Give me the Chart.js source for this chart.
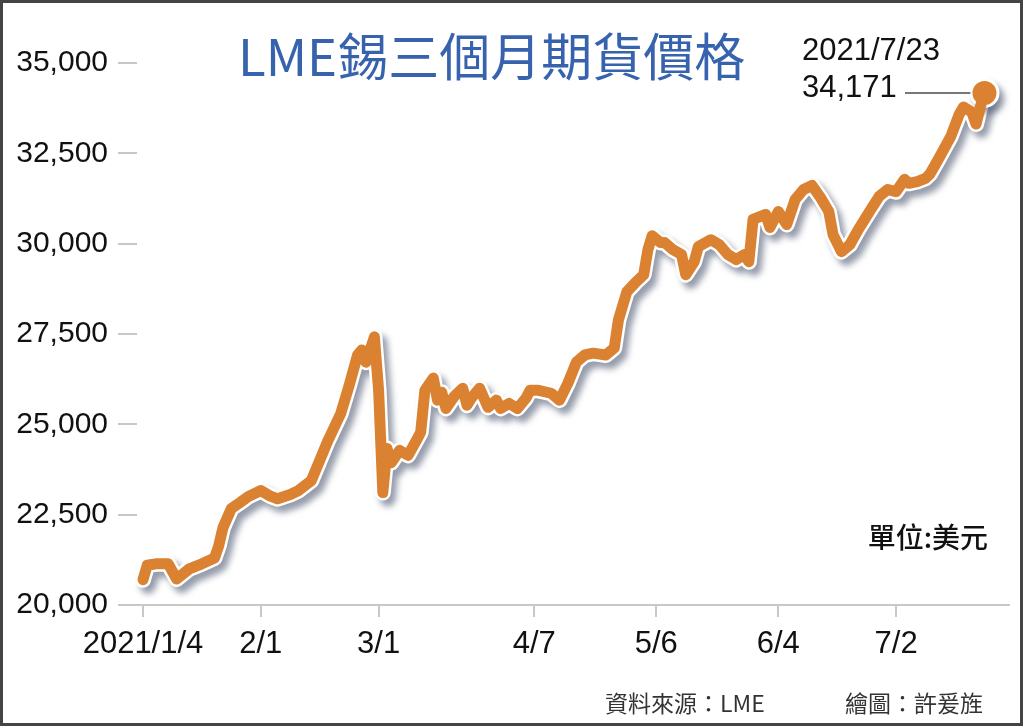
<!DOCTYPE html>
<html><head><meta charset="utf-8">
<script src="https://cdn.jsdelivr.net/npm/chart.js@4.4.1/dist/chart.umd.min.js"></script>
<style>html,body{margin:0;padding:0;background:#fff;overflow:hidden}canvas{display:block}</style>
</head><body>
<canvas id="c" width="1024" height="727"></canvas>
<script>
// ---- data ----
const dates = ['1/4','1/5','1/7','1/10','1/12','1/15','1/18','1/21','1/22','1/23','1/25','1/27','1/29',
  '2/1','2/3','2/5','2/8','2/10','2/13','2/15','2/17','2/20','2/22','2/24','2/25','2/26','2/28',
  '3/1','3/2','3/3','3/4','3/6','3/8','3/10','3/11','3/12','3/14','3/15','3/16','3/17','3/19','3/21','3/22','3/23','3/25','3/27','3/29','3/30',
  '4/1','4/3','4/5','4/6','4/8','4/11','4/13','4/15','4/17','4/19','4/21','4/24','4/26','4/27','4/29',
  '5/1','5/3','5/4','5/5','5/7','5/8','5/10','5/12','5/13','5/15','5/16','5/19','5/21','5/23','5/25','5/27','5/28','5/29',
  '6/1','6/2','6/4','6/6','6/8','6/10','6/12','6/14','6/16','6/17','6/19','6/21','6/23','6/26','6/28','6/30',
  '7/2','7/4','7/5','7/7','7/9','7/10','7/12','7/15','7/17','7/18','7/20','7/21','7/22','7/23'];
const prices = [20700,21100,21140,21140,20720,21000,21140,21300,21640,22140,22670,22830,23000,
  23170,23030,22940,23060,23170,23440,24000,24560,25300,26080,26920,27060,26720,27420,
  25940,23110,24330,23940,24280,24140,24560,24780,25940,26280,25670,25890,25440,25780,26000,25530,25720,26000,25470,25670,25440,
  25580,25440,25720,25940,25940,25860,25670,26140,26720,26920,26970,26920,27110,27890,28670,
  28920,29140,29830,30220,30030,30030,29830,29700,29140,29500,29920,30110,29970,29700,29560,29700,29500,30670,
  30810,30450,30890,30530,31220,31500,31610,31280,30890,30250,29780,29970,30390,30950,31310,31500,
  31440,31780,31670,31720,31810,31920,32330,32970,33580,33780,33640,33310,33780,34171];
const tickDates = ['1/4','2/1','3/1','4/7','5/6','6/4','7/2'];
const tickLabels = ['2021/1/4','2/1','3/1','4/7','5/6','6/4','7/2'];
const yTicks = [20000,22500,25000,27500,30000,32500,35000];
const titleText = 'LME錫三個月期貨價格';
const lastDateLabel = '2021/7/23';
const unitText = '單位:美元';
const sourceText = '資料來源：LME';
const creditText = '繪圖：許爰旌';

const monthStart = [0,31,59,90,120,151,181,212];
function dayOfYear(md){ const p = md.split('/').map(Number); return monthStart[p[0]-1] + p[1]; }
const points = dates.map((d,i)=>({x:dayOfYear(d), y:prices[i]}));
const lastIdx = prices.length - 1;

const ORANGE = '#DB8232';
const numFont = '"Liberation Sans", Arial, sans-serif';
const cjkFont = '"Noto Sans CJK TC", "Noto Sans CJK SC", sans-serif';

const decor = {
  id:'decor',
  beforeDraw(chart){
    const c = chart.ctx; c.save(); c.fillStyle='#fff'; c.fillRect(0,0,chart.width,chart.height); c.restore();
  },
  beforeDatasetDraw(chart,args){
    if(args.index===1){
      const c=chart.ctx; c.save();
      c.shadowColor='rgba(80,90,115,0.6)'; c.shadowBlur=6; c.shadowOffsetX=5; c.shadowOffsetY=6;
    }
  },
  afterDatasetDraw(chart,args){
    if(args.index===1){ chart.ctx.restore(); }
  },
  afterDraw(chart){
    const c = chart.ctx;
    c.save();
    // title
    c.fillStyle='#3762AE'; c.font='400 51px '+cjkFont; c.textAlign='left'; c.textBaseline='middle';
    c.fillText(titleText, 238, 57);
    // unit
    c.fillStyle='#111'; c.font='500 28px '+cjkFont; c.textAlign='right';
    c.fillText(unitText, 988, 537);
    // footer
    c.fillStyle='#333'; c.font='400 23px '+cjkFont; c.textAlign='left';
    c.fillText(sourceText, 605, 703);
    c.fillText(creditText, 845, 703);
    // annotation for last point
    const el = chart.getDatasetMeta(0).data[lastIdx];
    c.fillStyle='#111'; c.font='31px '+numFont; c.textAlign='left';
    c.fillText(lastDateLabel, 802, 51);
    c.fillText(prices[lastIdx].toLocaleString('en-US'), 802, 88);
    c.strokeStyle='#777'; c.lineWidth=2;
    c.beginPath(); c.moveTo(905, el.y); c.lineTo(el.x-14, el.y); c.stroke();
    // frame
    c.strokeStyle='#444'; c.lineWidth=3;
    c.strokeRect(1.5,1.5,1020,723);
    c.restore();
  }
};

new Chart(document.getElementById('c'), {
  type:'line',
  data:{ datasets:[
    { data:points, borderColor:ORANGE, borderWidth:11, borderJoinStyle:'round', borderCapStyle:'round',
      tension:0, fill:false, clip:false,
      pointRadius:ctx=>ctx.dataIndex===lastIdx?12:0, pointBackgroundColor:ORANGE, pointBorderWidth:0, pointHoverRadius:0 },
    { data:points, borderColor:'#ffffff', borderWidth:16, borderJoinStyle:'round', borderCapStyle:'round',
      tension:0, fill:false, clip:false,
      pointRadius:ctx=>ctx.dataIndex===lastIdx?15:0, pointBackgroundColor:'#ffffff', pointBorderWidth:0, pointHoverRadius:0 }
  ]},
  options:{
    responsive:false, animation:false, devicePixelRatio:1,
    layout:{padding:{top:63,right:14,bottom:0,left:0}},
    plugins:{legend:{display:false}, tooltip:{enabled:false}},
    scales:{
      x:{ type:'linear', min:2.576, max:209.83,
        afterBuildTicks:s=>{ s.ticks = tickDates.map(d=>({value:dayOfYear(d)})); },
        afterFit:s=>{ s.height = 122; },
        ticks:{ autoSkip:false, maxRotation:0, color:'#111', padding:9, font:{family:numFont,size:31},
          callback:v=>{ const i = tickDates.findIndex(d=>dayOfYear(d)===v); return i>=0?tickLabels[i]:''; } },
        grid:{ drawOnChartArea:false, tickLength:12, color:'#c8c8c8', lineWidth:2 },
        border:{ display:true, color:'#c8c8c8', width:2 }
      },
      y:{ min:20000, max:35000,
        afterBuildTicks:s=>{ s.ticks = yTicks.map(v=>({value:v})); },
        afterFit:s=>{ s.width = 137; },
        ticks:{ color:'#111', padding:10, font:{family:numFont,size:30},
          callback:v=>Number(v).toLocaleString('en-US') },
        grid:{ drawOnChartArea:false, tickLength:19, color:'#c8c8c8', lineWidth:2 },
        border:{ display:false }
      }
    }
  },
  plugins:[decor]
});
</script>
</body></html>
